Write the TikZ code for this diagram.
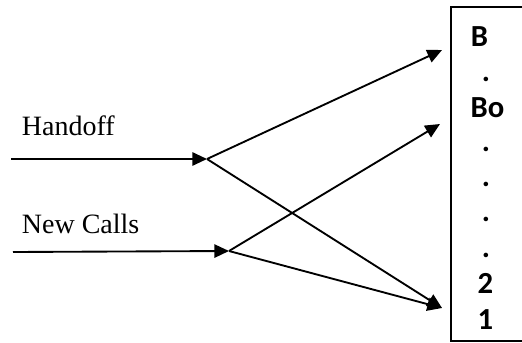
\documentclass[tikz,border=0pt]{standalone}
\usepackage{fontspec}
\setmainfont{Liberation Serif}
\newfontfamily\slotfont{Carlito}
\usetikzlibrary{arrows.meta}

\begin{document}
\begin{tikzpicture}[x=0.75pt,y=-0.75pt,>={Triangle[length=11pt,width=10pt]},line width=1.4pt,
  label node/.style={anchor=base west,inner sep=0pt,font=\fontsize{21}{24}\selectfont},
  slot node/.style={anchor=base,inner sep=0pt,font=\slotfont\bfseries\fontsize{23}{26}\selectfont},
  queue box/.style={rectangle,anchor=west,minimum width=54pt,minimum height=250.5pt,inner sep=0pt,outer sep=0pt}]

  \useasboundingbox (0,0) rectangle (522,343);

  % arrivals
  \node[label node] (handoff) at (21,135) {Handoff};
  \node[label node] (newcalls) at (21,233) {New Calls};
  \coordinate (hin) at (11,159);
  \coordinate (hsplit) at (207,159);
  \coordinate (nin) at (13,252);
  \coordinate (nsplit) at (229,251);

  % channel queue, open on the right
  \node[queue box] (queue) at (451,174) {};
  \draw (queue.north east) -- (queue.north west) -- (queue.south west) -- (queue.south east);
  \node[slot node] (sB) at (479.5,46) {B};
  \node[slot node] (sdot) at (486,81) {.};
  \node[slot node] (sBo) at (487.5,117) {Bo};
  \node[slot node] (sdota) at (486,151) {.};
  \node[slot node] (sdotb) at (486,186) {.};
  \node[slot node] (sdotc) at (486,221) {.};
  \node[slot node] (sdotd) at (486,257) {.};
  \node[slot node] (stwo) at (485.5,293) {2};
  \node[slot node] (sone) at (485.5,329) {1};
  \coordinate (tB) at (442,50);
  \coordinate (tBo) at (440,124);
  \coordinate (tone) at (442,308);

  \path[->]
    (hin) edge (hsplit)
    (nin) edge (nsplit)
    (hsplit) edge (tB)
             edge (tone)
    (nsplit) edge (tBo)
             edge (tone)
    ;
\end{tikzpicture}
\end{document}
